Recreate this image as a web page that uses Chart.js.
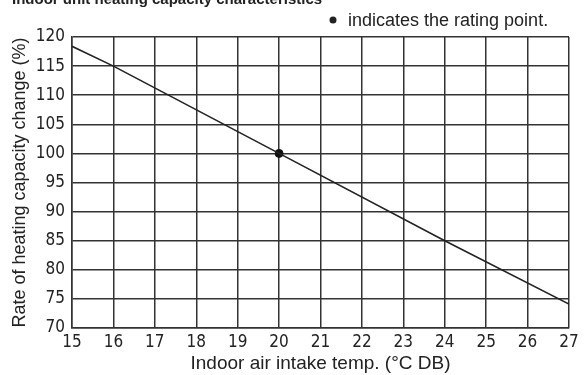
<!DOCTYPE html>
<html>
<head>
<meta charset="utf-8">
<script src="https://cdn.jsdelivr.net/npm/chart.js@4"></script>
<style>
  html, body { margin: 0; padding: 0; background: #fff; }
  #wrap { width: 584px; height: 375px; position: relative; }
</style>
</head>
<body>
<div id="wrap"><canvas id="chart"></canvas></div>
<script>
// Indoor unit heating capacity characteristics
const temps = [15, 16, 20, 24, 27];
const capacity = [118.4, 115, 100, 85, 74.1];
const ratingPoint = [{ x: 20, y: 100 }];
const xTicks = [15, 16, 17, 18, 19, 20, 21, 22, 23, 24, 25, 26, 27];
const yTicks = [70, 75, 80, 85, 90, 95, 100, 105, 110, 115, 120];

const font = "'Liberation Sans', Arial, sans-serif";
const narrow = "'Liberation Sans Narrow', 'Arial Narrow', 'DejaVu Sans Condensed', sans-serif";

// texte du haut : titre coupé + note sur le point nominal
const notes = {
    id: "notes",
    afterDraw(chart) {
        const ctx = chart.ctx;
        ctx.save();
        ctx.fillStyle = "#222";
        ctx.font = "bold 15px " + font;
        ctx.textBaseline = "alphabetic";
        ctx.textAlign = "left";
        ctx.fillText("Indoor unit heating capacity characteristics", 12, 4);
        ctx.beginPath();
        ctx.arc(333, 20, 3.5, 0, Math.PI * 2);
        ctx.fill();
        ctx.font = "18px " + font;
        ctx.fillText("indicates the rating point.", 348, 26);
        ctx.restore();
    }
};

new Chart(document.getElementById("chart"), {
    type: "scatter",
    data: {
        datasets: [
            {
                data: temps.map((t, i) => ({ x: t, y: capacity[i] })),
                showLine: true,
                borderColor: "#222",
                borderWidth: 1.6,
                pointRadius: 0,
                tension: 0
            },
            {
                data: ratingPoint,
                pointRadius: 4,
                backgroundColor: "#111",
                borderColor: "#111"
            }
        ]
    },
    options: {
        responsive: true,
        maintainAspectRatio: false,
        animation: false,
        layout: { padding: { top: 37, right: 15, left: 0, bottom: 0 } },
        plugins: { legend: { display: false }, tooltip: { enabled: false } },
        scales: {
            x: {
                type: "linear",
                min: 15, max: 27,
                afterBuildTicks: axis => { axis.ticks = xTicks.map(v => ({ value: v })); },
                afterFit: axis => { axis.height = 47; },
                grid: { color: "#333", lineWidth: 1.5, drawTicks: false },
                border: { color: "#333", width: 1.5 },
                ticks: { color: "#222", font: { family: narrow, size: 17 }, padding: 4 },
                title: { display: true, text: "Indoor air intake temp. (\u00B0C DB)", color: "#222",
                         font: { family: font, size: 19 }, padding: { top: 0, bottom: 0 } }
            },
            y: {
                min: 70, max: 120,
                afterBuildTicks: axis => { axis.ticks = yTicks.map(v => ({ value: v })); },
                afterFit: axis => { axis.width = 72; },
                grid: { color: "#333", lineWidth: 1.5, drawTicks: false },
                border: { color: "#333", width: 1.5 },
                ticks: { color: "#222", font: { family: narrow, size: 17 }, padding: 7 },
                title: { display: true, text: "Rate of heating capacity change (%)", color: "#222",
                         font: { family: font, size: 18 }, padding: { top: 9, bottom: 0 } }
            }
        }
    },
    plugins: [notes]
});
</script>
</body>
</html>
